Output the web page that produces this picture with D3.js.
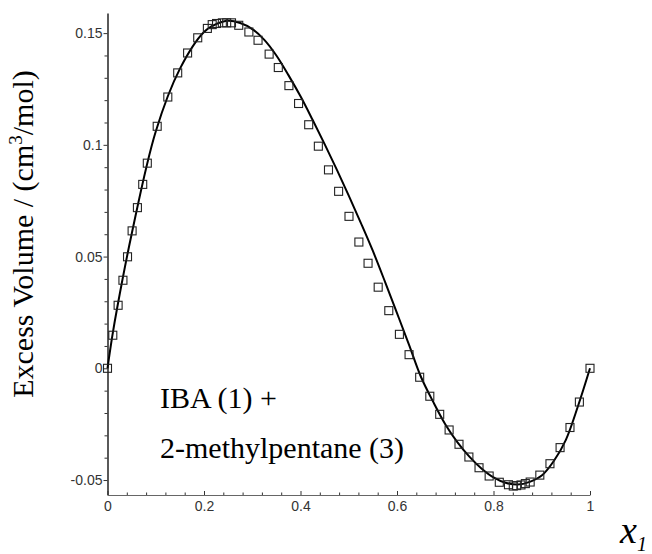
<!DOCTYPE html>
<html>
<head>
<meta charset="utf-8">
<script src="https://cdn.jsdelivr.net/npm/d3@7"></script>
<style>
  body { margin: 0; background: #fff; }
  svg { display: block; }
</style>
</head>
<body>
<svg id="chart"></svg>
<script>
// measured points: mole fraction x1 and excess volume (cm3/mol)
const pointX = [
  0, 0.011, 0.022, 0.032, 0.0415, 0.051, 0.062, 0.073, 0.0825, 0.103,
  0.125, 0.1455, 0.166, 0.187, 0.207, 0.217, 0.226, 0.238, 0.247, 0.257,
  0.272, 0.293, 0.312, 0.335, 0.354, 0.376, 0.396, 0.417, 0.437, 0.458,
  0.479, 0.5005, 0.521, 0.54, 0.561, 0.583, 0.605, 0.625, 0.647, 0.668,
  0.6885, 0.708, 0.7285, 0.749, 0.77, 0.791, 0.812, 0.831, 0.841, 0.848,
  0.857, 0.866, 0.876, 0.896, 0.917, 0.938, 0.9585, 0.978, 1.0,
];
const pointV = [
  0, 0.0148, 0.0282, 0.0394, 0.0499, 0.0615, 0.0719, 0.0823, 0.0918, 0.1083,
  0.1214, 0.1322, 0.1411, 0.1479, 0.1521, 0.1538, 0.1543, 0.1546, 0.1546, 0.1546,
  0.1535, 0.1505, 0.1468, 0.1406, 0.1346, 0.1265, 0.1185, 0.109, 0.0994, 0.0888,
  0.0792, 0.068, 0.0565, 0.047, 0.0363, 0.0258, 0.0152, 0.0061, -0.004, -0.0125,
  -0.0206, -0.0276, -0.034, -0.0397, -0.0445, -0.0482, -0.051, -0.0521, -0.0527, -0.0525,
  -0.0522, -0.0516, -0.0509, -0.0478, -0.0427, -0.0355, -0.0265, -0.0151, 0,
];

// fitted curve
const curveX = [
  0, 0.01, 0.02, 0.05, 0.1, 0.15, 0.2, 0.225, 0.25, 0.275, 0.3, 0.325, 0.35, 0.375,
  0.4, 0.425, 0.45, 0.475, 0.5, 0.525, 0.55, 0.575, 0.6, 0.625, 0.65, 0.675, 0.7,
  0.725, 0.75, 0.775, 0.8, 0.825, 0.85, 0.875, 0.9, 0.925, 0.95, 0.975, 1.0,
];
const curveV = [
  0, 0.0145, 0.027, 0.06, 0.106, 0.134, 0.1505, 0.154, 0.1555, 0.1545, 0.1518, 0.147, 0.14, 0.1312,
  0.1217, 0.1112, 0.1003, 0.089, 0.0773, 0.0651, 0.0525, 0.0388, 0.0247, 0.0105, -0.004, -0.015, -0.025,
  -0.033, -0.0395, -0.0448, -0.0488, -0.0512, -0.052, -0.0508, -0.048, -0.0415, -0.032, -0.017, 0,
];

const xTicks = [0, 0.2, 0.4, 0.6, 0.8, 1];
const yTicks = [-0.05, 0, 0.05, 0.1, 0.15];
const noteLines = ['IBA (1) +', '2-methylpentane (3)'];
const yTitle = 'Excess Volume / (cm';

const state = {
  width: 652,
  height: 554,
  plot: { left: 107.5, right: 590, top: 13, bottom: 495 },
  xScale: null,
  yScale: null,
  serif: '"Liberation Serif", "Times New Roman", serif',
  sans: '"Liberation Sans", Arial, sans-serif',
};

const svg = d3.select('#chart')
  .attr('width', state.width)
  .attr('height', state.height);

state.xScale = d3.scaleLinear().domain([0, 1]).range([state.plot.left, state.plot.right]);
state.yScale = d3.scaleLinear().domain([-0.0567, 0.159]).range([state.plot.bottom, state.plot.top]);

drawAxes();
drawCurve();
drawPoints();
drawLabels();

function drawAxes() {
  // plain hyphen for negatives, like the original
  const fmt = d => String(+d.toFixed(2));

  // y axis: majors with labels, minors every 0.01
  const yAxis = d3.axisLeft(state.yScale)
    .tickValues(yTicks)
    .tickSize(4)
    .tickSizeOuter(0)
    .tickFormat(fmt);
  const yMinor = d3.axisLeft(state.yScale)
    .tickValues(d3.range(-5, 16).map(i => i / 100).filter(v => Math.round(v * 100) % 5 !== 0))
    .tickSize(3)
    .tickSizeOuter(0)
    .tickFormat('');

  const gy = svg.append('g')
    .attr('class', 'y-axis')
    .attr('transform', `translate(${state.plot.left},0)`)
    .call(yAxis);
  svg.append('g')
    .attr('transform', `translate(${state.plot.left},0)`)
    .call(yMinor)
    .select('.domain').remove();

  // x axis: ticks point up into the plot
  const xAxis = d3.axisBottom(state.xScale)
    .tickValues(xTicks)
    .tickSize(-4)
    .tickSizeOuter(0)
    .tickFormat(fmt);
  const xMinor = d3.axisBottom(state.xScale)
    .tickValues(d3.range(0, 26).map(i => i * 0.04).filter((v, i) => i % 5 !== 0))
    .tickSize(-2.5)
    .tickSizeOuter(0)
    .tickFormat('');

  const gx = svg.append('g')
    .attr('class', 'x-axis')
    .attr('transform', `translate(0,${state.plot.bottom})`)
    .call(xAxis);
  svg.append('g')
    .attr('transform', `translate(0,${state.plot.bottom})`)
    .call(xMinor)
    .select('.domain').remove();

  svg.selectAll('.tick line').attr('stroke', '#333');
  gy.select('.domain').attr('stroke', '#000').attr('stroke-width', 1.3);
  gx.select('.domain').attr('stroke', '#666').attr('stroke-width', 1);

  gy.selectAll('.tick text')
    .attr('x', -5)
    .style('font-family', state.sans)
    .style('font-size', '14px')
    .attr('fill', '#333');
  gx.selectAll('.tick text')
    .attr('y', 6)
    .style('font-family', state.sans)
    .style('font-size', '14px')
    .attr('fill', '#333');
}

function drawCurve() {
  const line = d3.line()
    .x(d => state.xScale(d[0]))
    .y(d => state.yScale(d[1]))
    .curve(d3.curveCatmullRom);

  svg.append('path')
    .datum(d3.zip(curveX, curveV))
    .attr('d', line)
    .attr('fill', 'none')
    .attr('stroke', '#000')
    .attr('stroke-width', 2);
}

function drawPoints() {
  const size = 8;
  svg.append('g')
    .selectAll('rect')
    .data(d3.zip(pointX, pointV))
    .enter()
    .append('rect')
    .attr('x', d => state.xScale(d[0]) - size / 2)
    .attr('y', d => state.yScale(d[1]) - size / 2)
    .attr('width', size)
    .attr('height', size)
    .attr('fill', 'none')
    .attr('stroke', '#222')
    .attr('stroke-width', 1.1);
}

function drawLabels() {
  // rotated y title with superscript 3
  const title = svg.append('text')
    .attr('transform', 'translate(33,234) rotate(-90)')
    .attr('text-anchor', 'middle')
    .style('font-family', state.serif)
    .style('font-size', '30px')
    .attr('fill', '#000');
  title.append('tspan').text(yTitle);
  title.append('tspan').attr('dy', -11).style('font-size', '19px').text('3');
  title.append('tspan').attr('dy', 11).text('/mol)');

  svg.append('g')
    .selectAll('text')
    .data(noteLines)
    .enter()
    .append('text')
    .attr('x', 160)
    .attr('y', (d, i) => 408 + i * 50)
    .style('font-family', state.serif)
    .style('font-size', '30px')
    .attr('fill', '#000')
    .text(d => d);

  const xl = svg.append('text')
    .attr('x', 620)
    .attr('y', 543)
    .style('font-family', state.serif)
    .style('font-style', 'italic')
    .style('font-size', '38px')
    .attr('fill', '#000');
  xl.append('tspan').text('x');
  xl.append('tspan').attr('dy', 8).style('font-size', '20px').text('1');
}
</script>
</body>
</html>
